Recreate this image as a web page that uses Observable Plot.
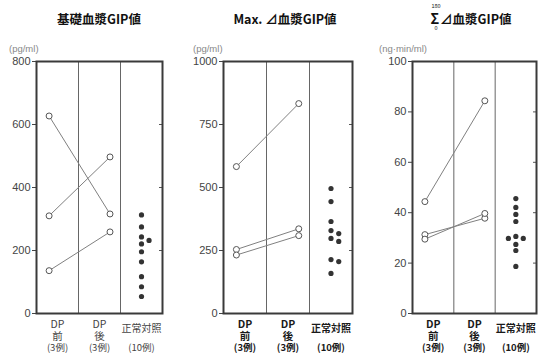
<!DOCTYPE html>
<html><head><meta charset="utf-8">
<script src="https://cdn.jsdelivr.net/npm/d3@7"></script>
<script src="https://cdn.jsdelivr.net/npm/@observablehq/plot@0.6"></script>
<style>
body{margin:0;background:#fff;}
#wrap{position:relative;width:541px;height:354px;overflow:hidden;font-family:"Noto Sans CJK JP",sans-serif;}
.panel{position:absolute;top:0;}
.title{position:absolute;top:11px;font-weight:bold;font-size:12.5px;line-height:16px;color:#111;white-space:nowrap;transform:translateX(-50%);font-family:"Noto Sans CJK JP","Liberation Sans",sans-serif;}
.unit{position:absolute;top:43px;font-size:9.5px;line-height:12px;color:#888;white-space:nowrap;font-family:"Liberation Sans",sans-serif;}
.sig{position:relative;display:inline-block;font-size:14px;line-height:16px;font-weight:bold;margin-right:1px;}
.sig .up{position:absolute;left:1px;top:-7px;font-size:5.5px;line-height:6px;font-weight:normal;}
.sig .lo{position:absolute;left:4px;top:15px;font-size:5.5px;line-height:6px;font-weight:normal;}
</style></head>
<body><div id="wrap"></div>
<script>
// ---- data ----
const categories = ["DP前", "DP後", "正常対照"];
const catWord = ["DP", "DP", "正常対照"];
const catWhen = ["前", "後", ""];
const catN = ["(3例)", "(3例)", "(10例)"];
const subjects = ["A", "B", "C"];

const titles = ["基礎血漿GIP値", "Max. ⊿血漿GIP値", "⊿血漿GIP値"];
const units = ["(pg/ml)", "(pg/ml)", "(ng·min/ml)"];

const basalBefore = [627, 310, 136];
const basalAfter = [316, 497, 259];
const basalControl = [313, 275, 243, 232, 221, 196, 164, 117, 85, 54];
const basalTicks = [0, 200, 400, 600, 800];

const maxBefore = [583, 254, 232];
const maxAfter = [833, 336, 309];
const maxControl = [496, 444, 365, 329, 317, 298, 286, 214, 206, 159];
const maxTicks = [0, 250, 500, 750, 1000];

const sumBefore = [44.4, 31.3, 29.5];
const sumAfter = [84.4, 37.8, 39.7];
const sumControl = [45.6, 42.1, 39.3, 36.5, 30.6, 29.8, 29.8, 27.4, 25.0, 18.7];
const sumTicks = [0, 20, 40, 60, 80, 100];

// ---- layout ----
const H = 354, MT = 61, MB = 41;
const POS_BEFORE = 0.3, POS_AFTER = 1.75, POS_CTRL = 2.5, DODGE = 0.18;
const CJK = "'Noto Sans CJK JP', sans-serif";

function dodge(values, max, plotH, r) {
  const k = plotH / max;
  const placed = [];
  return values.map(v => {
    for (const o of [0, 1, -1, 2, -2]) {
      if (placed.every(p => p.o !== o || Math.abs(p.v - v) * k >= 2 * r + 0.6)) {
        placed.push({v, o});
        return {v, o};
      }
    }
    return {v, o: 0};
  });
}

function panel({left, width, ml, mr, before, after, control, ticks, light}) {
  const max = ticks[ticks.length - 1];
  const pairs = subjects.flatMap((s, i) => [
    {s, x: POS_BEFORE, y: before[i]},
    {s, x: POS_AFTER, y: after[i]}
  ]);
  const dots = dodge(control, max, H - MT - MB, 2.6).map(d => ({x: POS_CTRL + d.o * DODGE, y: d.v}));
  const sections = categories.map((c, i) => ({x: i + 0.5, word: catWord[i], when: catWhen[i], n: catN[i]}));
  const labelStyle = {fontSize: 10.5, fontWeight: light ? "normal" : "bold", fill: light ? "#444" : "#1a1a1a", fontFamily: CJK, frameAnchor: "bottom", lineAnchor: "middle"};
  const svg = Plot.plot({
    width, height: H,
    marginLeft: ml, marginRight: mr, marginTop: MT, marginBottom: MB,
    x: {domain: [0, 3], axis: null},
    y: {domain: [0, max], axis: null},
    style: {fontFamily: "'Liberation Sans', sans-serif", background: "transparent", overflow: "visible"},
    marks: [
      Plot.ruleX([1, 2], {stroke: "#666", strokeWidth: 1}),
      Plot.axisY({ticks, tickSize: 4, tickPadding: 2, fontSize: 11, color: "#444", label: null, tickFormat: d => String(d)}),
      Plot.axisY({anchor: "right", ticks, tickSize: 4, dx: -4, tickFormat: () => "", color: "#555", label: null}),
      Plot.frame({stroke: "#3a3a3a", strokeWidth: 2}),
      Plot.line(pairs, {x: "x", y: "y", z: "s", stroke: "#808080", strokeWidth: 1}),
      Plot.dot(pairs, {x: "x", y: "y", r: 3, stroke: "#555", fill: "white", strokeWidth: 1}),
      Plot.dot(dots, {x: "x", y: "y", r: 2.6, fill: "#333"}),
      Plot.text(sections.filter(d => d.when), {x: "x", text: "word", dy: 11, ...labelStyle}),
      Plot.text(sections.filter(d => !d.when), {x: "x", text: "word", dy: 15, ...labelStyle, fontSize: 10}),
      Plot.text(sections, {x: "x", text: "when", dy: 23, ...labelStyle}),
      Plot.text(sections, {x: "x", text: "n", dy: 34.5, ...labelStyle, fontSize: 9.5})
    ]
  });
  svg.classList.add("panel");
  svg.style.left = left + "px";
  return svg;
}

const wrap = document.getElementById("wrap");
wrap.appendChild(panel({left: 0, width: 180, ml: 36, mr: 18, before: basalBefore, after: basalAfter, control: basalControl, ticks: basalTicks, light: true}));
wrap.appendChild(panel({left: 180, width: 180, ml: 43, mr: 8, before: maxBefore, after: maxAfter, control: maxControl, ticks: maxTicks}));
wrap.appendChild(panel({left: 360, width: 181, ml: 52, mr: 5, before: sumBefore, after: sumAfter, control: sumControl, ticks: sumTicks}));

function addDiv(cls, html, styles) {
  const d = document.createElement("div");
  d.className = cls;
  d.innerHTML = html;
  Object.assign(d.style, styles);
  wrap.appendChild(d);
}
addDiv("title", titles[0], {left: "99px"});
addDiv("title", titles[1], {left: "285px"});
addDiv("title", '<span class="sig">Σ<span class="up">180</span><span class="lo">0</span></span>' + titles[2], {left: "471px", top: "10px"});
addDiv("unit", units[0], {left: "9px"});
addDiv("unit", units[1], {left: "193px"});
addDiv("unit", units[2], {left: "379px"});
</script>
</body></html>
